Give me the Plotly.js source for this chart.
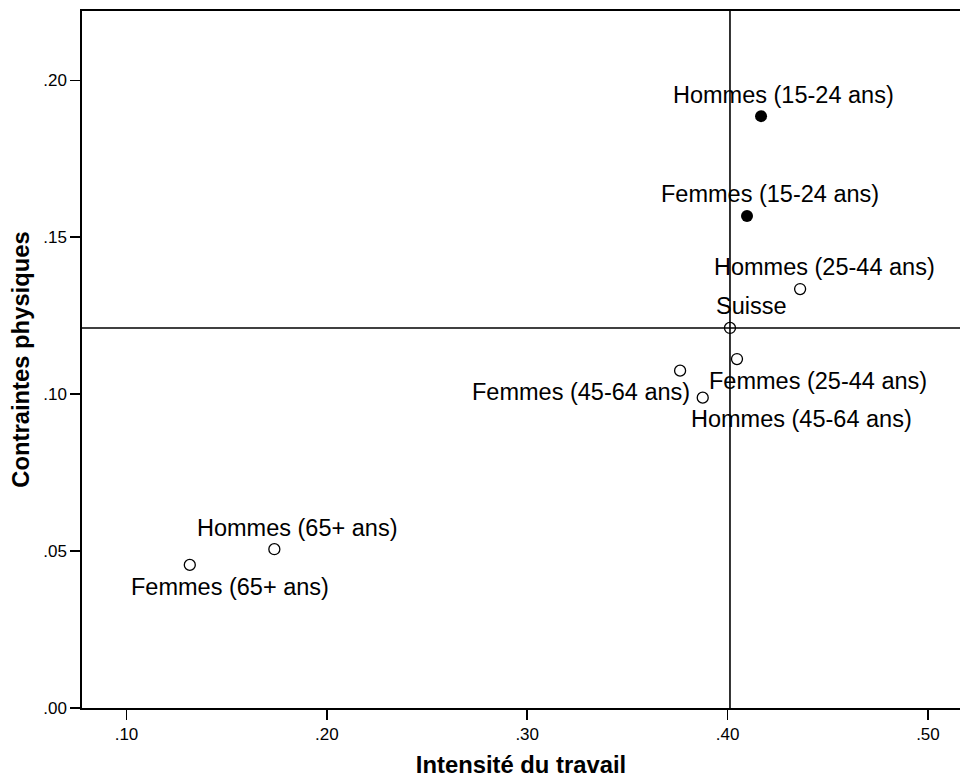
<!DOCTYPE html>
<html>
<head>
<meta charset="utf-8">
<script src="https://cdn.plot.ly/plotly-3.0.1.min.js"></script>
<style>html,body{margin:0;padding:0;background:#fff;}#chart{width:960px;height:778px;}</style>
</head>
<body>
<div id="chart"></div>
<script>
// Data
const labels = ["Hommes (15-24 ans)","Femmes (15-24 ans)","Hommes (25-44 ans)","Suisse","Femmes (25-44 ans)","Femmes (45-64 ans)","Hommes (45-64 ans)","Hommes (65+ ans)","Femmes (65+ ans)"];
const intensite = [0.4167, 0.4097, 0.4362, 0.4012, 0.4047, 0.3763, 0.3876, 0.1738, 0.1316];
const contraintes = [0.1886, 0.1568, 0.1335, 0.1211, 0.1112, 0.1075, 0.0989, 0.0506, 0.0456];
const filled = [true, true, false, false, false, false, false, false, false];
const xTicks = [0.10, 0.20, 0.30, 0.40, 0.50];
const xTickText = [".10", ".20", ".30", ".40", ".50"];
const yTicks = [0.00, 0.05, 0.10, 0.15, 0.20];
const yTickText = [".00", ".05", ".10", ".15", ".20"];
const refIndex = 3; // Suisse: reference lines

// Label offsets (px) — styling only
const labelShift = [[22,21],[23,22],[24,22],[22,22],[81,-22],[-99,-21],[99,-21],[23,21],[40,-22]];

const font = "Liberation Sans, Arial, sans-serif";

const openIdx = [], fillIdx = [];
filled.forEach((f,i)=> (f?fillIdx:openIdx).push(i));

const traces = [
  {
    x: openIdx.map(i=>intensite[i]), y: openIdx.map(i=>contraintes[i]),
    mode: 'markers', type: 'scatter', hoverinfo: 'skip',
    marker: {symbol: 'circle-open', size: 11, color: '#000', line: {width: 1.3, color: '#000'}}
  },
  {
    x: fillIdx.map(i=>intensite[i]), y: fillIdx.map(i=>contraintes[i]),
    mode: 'markers', type: 'scatter', hoverinfo: 'skip',
    marker: {symbol: 'circle', size: 12, color: '#000', line: {width: 0}}
  }
];

const annotations = labels.map((t,i)=>({
  x: intensite[i], y: contraintes[i], xref: 'x', yref: 'y',
  text: t, showarrow: false, xanchor: 'center', yanchor: 'middle',
  xshift: labelShift[i][0], yshift: labelShift[i][1],
  font: {family: font, size: 23.5, color: '#000'}
}));

const layout = {
  width: 960, height: 778,
  margin: {l: 81.5, r: 0, t: 10.7, b: 69.7},
  paper_bgcolor: '#fff', plot_bgcolor: '#fff',
  showlegend: false,
  font: {family: font, color: '#000'},
  xaxis: {
    range: [0.0778, 0.516], tickvals: xTicks, ticktext: xTickText,
    showgrid: false, zeroline: false, showline: true, linecolor: '#000', linewidth: 1.6,
    mirror: true, ticks: 'outside', ticklen: 10, tickwidth: 1.6, tickcolor: '#000',
    tickfont: {family: font, size: 17, color: '#000'},
    title: {text: 'Intensité du travail', font: {family: font, size: 23.8, color: '#000', weight: 'bold'}, standoff: 18}
  },
  yaxis: {
    range: [0, 0.2221], tickvals: yTicks, ticktext: yTickText,
    showgrid: false, zeroline: false, showline: true, linecolor: '#000', linewidth: 1.6,
    mirror: false, ticks: 'outside', ticklen: 10, tickwidth: 1.6, tickcolor: '#000',
    tickfont: {family: font, size: 17, color: '#000'},
    title: {text: 'Contraintes physiques', font: {family: font, size: 23.8, color: '#000', weight: 'bold'}, standoff: 7}
  },
  shapes: [
    {type: 'line', xref: 'x', yref: 'paper', x0: intensite[refIndex], x1: intensite[refIndex], y0: 0, y1: 1, line: {color: '#000', width: 1.6}},
    {type: 'line', xref: 'paper', yref: 'y', x0: 0, x1: 1, y0: contraintes[refIndex], y1: contraintes[refIndex], line: {color: '#000', width: 1.6}}
  ],
  annotations: annotations
};

Plotly.newPlot('chart', traces, layout, {displayModeBar: false, staticPlot: true});
</script>
</body>
</html>
